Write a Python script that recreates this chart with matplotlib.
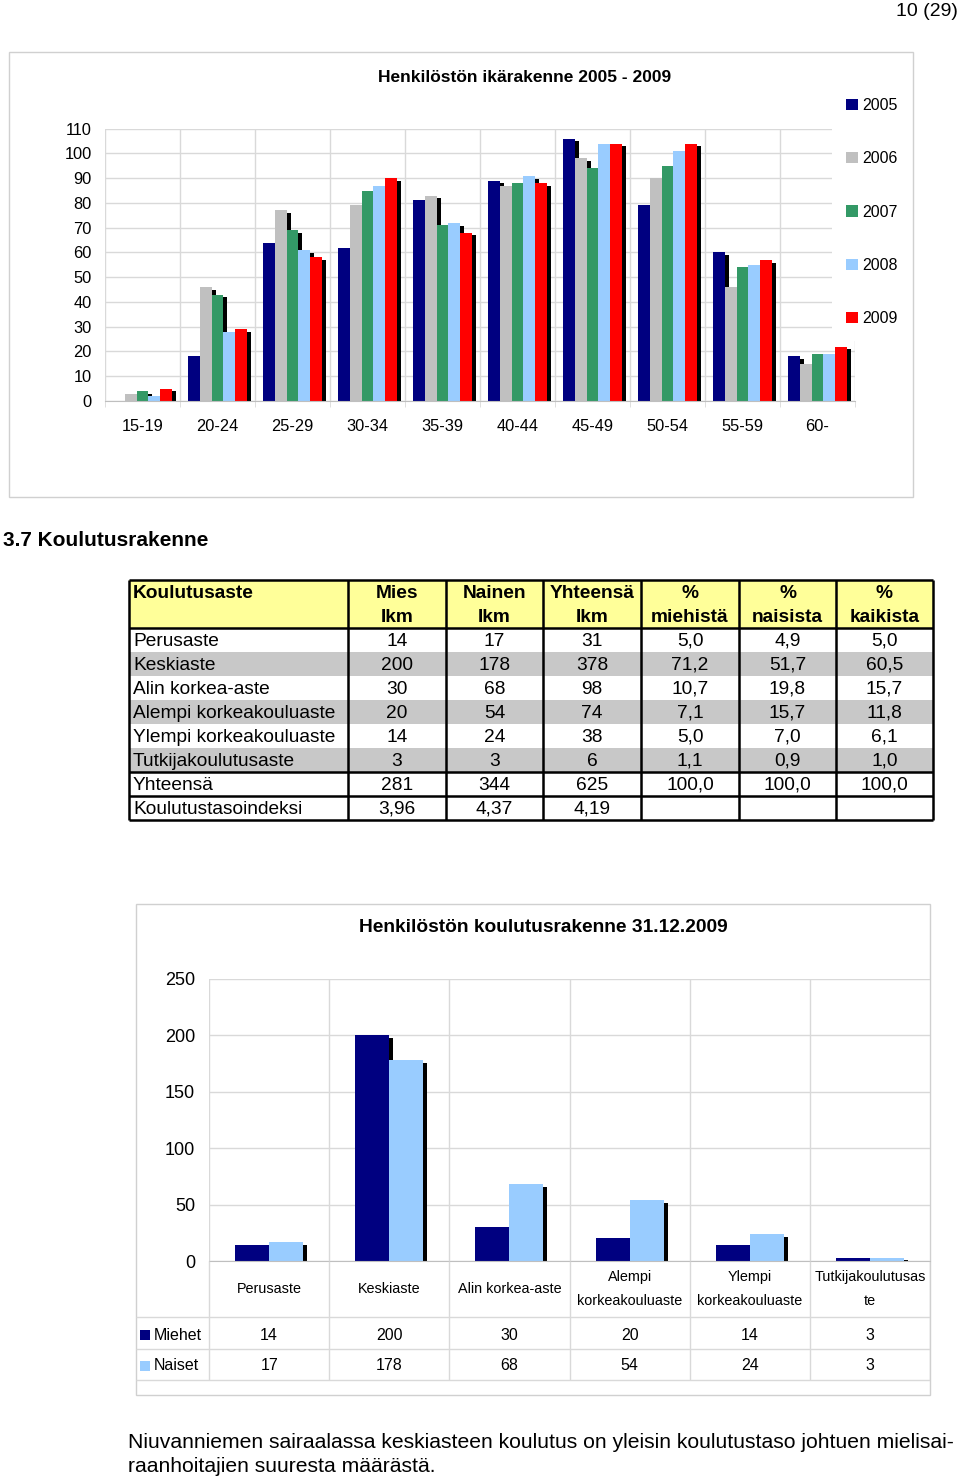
import matplotlib
matplotlib.use('Agg')
import matplotlib.pyplot as plt
import matplotlib.patheffects as pe
from matplotlib import font_manager
from matplotlib.patches import Rectangle, Patch
import numpy as np

W, H = 960, 1479

# age structure 2005-2009
age_groups = ['15-19', '20-24', '25-29', '30-34', '35-39', '40-44', '45-49', '50-54', '55-59', '60-']
years = ['2005', '2006', '2007', '2008', '2009']
v2005 = [0, 18, 64, 62, 81, 89, 106, 79, 60, 18]
v2006 = [3, 46, 77, 79, 83, 87, 98, 90, 46, 15]
v2007 = [4, 43, 69, 85, 71, 88, 94, 95, 54, 19]
v2008 = [2, 28, 61, 87, 72, 91, 104, 101, 55, 19]
v2009 = [5, 29, 58, 90, 68, 88, 104, 104, 57, 22]
year_colors = ['#000080', '#C0C0C0', '#339966', '#99CCFF', '#FF0000']

# education table
header_top = ['Koulutusaste', 'Mies', 'Nainen', 'Yhteensä', '%', '%', '%']
header_bottom = ['', 'Ikm', 'Ikm', 'Ikm', 'miehistä', 'naisista', 'kaikista']
edu_levels = ['Perusaste', 'Keskiaste', 'Alin korkea-aste', 'Alempi korkeakouluaste',
              'Ylempi korkeakouluaste', 'Tutkijakoulutusaste', 'Yhteensä', 'Koulutustasoindeksi']
mies_ikm = ['14', '200', '30', '20', '14', '3', '281', '3,96']
nainen_ikm = ['17', '178', '68', '54', '24', '3', '344', '4,37']
yht_ikm = ['31', '378', '98', '74', '38', '6', '625', '4,19']
pct_miehista = ['5,0', '71,2', '10,7', '7,1', '5,0', '1,1', '100,0', '']
pct_naisista = ['4,9', '51,7', '19,8', '15,7', '7,0', '0,9', '100,0', '']
pct_kaikista = ['5,0', '60,5', '15,7', '11,8', '6,1', '1,0', '100,0', '']

# education chart 31.12.2009
edu_cats = ['Perusaste', 'Keskiaste', 'Alin korkea-aste', 'Alempi\nkorkeakouluaste',
            'Ylempi\nkorkeakouluaste', 'Tutkijakoulutusas\nte']
miehet = [14, 200, 30, 20, 14, 3]
naiset = [17, 178, 68, 54, 24, 3]
sex_labels = ['Miehet', 'Naiset']
sex_colors = ['#000080', '#99CCFF']

names = {f.name for f in font_manager.fontManager.ttflist}
narrow = 'Liberation Sans Narrow' if 'Liberation Sans Narrow' in names else 'Liberation Sans'
plt.rcParams['font.family'] = ['Liberation Sans', 'DejaVu Sans']

fig = plt.figure(figsize=(W / 100, H / 100), dpi=100)


def px_axes(x0, y0, x1, y1, **kw):
    return fig.add_axes([x0 / W, 1 - y1 / H, (x1 - x0) / W, (y1 - y0) / H], **kw)


shadow = [pe.SimplePatchShadow(offset=(2.9, -2.0), shadow_rgbFace='black', alpha=1.0), pe.Normal()]
grid_c = '#D9D9D9'

# page layer
page = px_axes(0, 0, W, H, zorder=0)
page.set_xlim(0, W)
page.set_ylim(H, 0)
page.axis('off')
page.text(958, 12, '10 (29)', ha='right', va='center', fontsize=14)
page.add_patch(Rectangle((9, 52), 904, 445, fill=False, ec='#D0D0D0', lw=1))
page.add_patch(Rectangle((136, 904), 794, 491, fill=False, ec='#D0D0D0', lw=1))
page.text(525, 78, 'Henkilöstön ikärakenne 2005 - 2009', ha='center', va='center',
          fontsize=12.5, weight='bold')
page.text(3, 541, '3.7 Koulutusrakenne', ha='left', va='center', fontsize=15, weight='bold')
page.text(543, 927, 'Henkilöstön koulutusrakenne 31.12.2009', ha='center', va='center',
          fontsize=13.8, weight='bold', family=narrow)
page.text(128, 1442, 'Niuvanniemen sairaalassa keskiasteen koulutus on yleisin koulutustaso johtuen mielisai-',
          ha='left', va='center', fontsize=15.2)
page.text(128, 1467, 'raanhoitajien suuresta määrästä.', ha='left', va='center', fontsize=15.2)

# education table
col_edges = [129, 348, 446, 543, 641, 739, 836, 933]
top, head_h, row_h = 580, 48, 24
bottom = top + head_h + row_h * len(edu_levels)
page.add_patch(Rectangle((129, top), 804, head_h, fc='#FFFF99', ec='none'))
for r in [1, 3, 5]:
    page.add_patch(Rectangle((129, top + head_h + r * row_h), 804, row_h, fc='#C8C8C8', ec='none'))
page.vlines(col_edges, top, bottom, color='black', lw=1.8)
page.hlines([top, top + head_h, top + head_h + 6 * row_h, top + head_h + 7 * row_h, bottom],
            129, 933, color='black', lw=1.8)
centers = [(a + b) / 2 for a, b in zip(col_edges[:-1], col_edges[1:])]
for j in range(7):
    x = 133 if j == 0 else centers[j]
    ha = 'left' if j == 0 else 'center'
    page.text(x, 593, header_top[j], ha=ha, va='center', fontsize=13.8, weight='bold')
    page.text(x, 617, header_bottom[j], ha=ha, va='center', fontsize=13.8, weight='bold')
columns = [edu_levels, mies_ikm, nainen_ikm, yht_ikm, pct_miehista, pct_naisista, pct_kaikista]
for i in range(len(edu_levels)):
    y = top + head_h + row_h * i + row_h / 2 + 1.5
    for j, col in enumerate(columns):
        x = 133 if j == 0 else centers[j]
        page.text(x, y, col[i], ha='left' if j == 0 else 'center', va='center', fontsize=13.8)

# chart 1: age structure
ax1 = px_axes(105, 128.7, 855, 401, zorder=1)
x = np.arange(len(age_groups))
width = 0.155
for i, vals in enumerate([v2005, v2006, v2007, v2008, v2009]):
    bars = ax1.bar(x + (i - 2) * width, vals, width, color=year_colors[i], zorder=2)
    for b in bars:
        b.set_path_effects(shadow)
ax1.set_xlim(-0.5, len(age_groups) - 0.5)
ax1.set_ylim(0, 110)
ax1.set_yticks(range(0, 111, 10))
ax1.set_xticks(x, age_groups)
ax1.set_xticks(np.arange(-0.5, len(age_groups), 1), minor=True)
ax1.yaxis.grid(True, color=grid_c, lw=1)
ax1.xaxis.grid(True, which='minor', color=grid_c, lw=1)
ax1.set_axisbelow(True)
for s in ['top', 'right', 'left']:
    ax1.spines[s].set_visible(False)
ax1.spines['bottom'].set_color('#BFBFBF')
ax1.tick_params(axis='x', which='major', length=0, pad=13, labelsize=11.8)
ax1.tick_params(axis='x', which='minor', length=4, color=grid_c)
ax1.tick_params(axis='y', length=0, pad=9.5, labelsize=11.8)
ax1.add_patch(Rectangle((832 / W, 1 - 341 / H), 80 / W, 280 / H, transform=fig.transFigure,
                        fc='white', ec='none', zorder=3, clip_on=False))
ax1.legend([Patch(facecolor=c) for c in year_colors], years, loc='upper left',
           bbox_to_anchor=(846 / W, 1 - 98 / H), bbox_transform=fig.transFigure,
           frameon=False, fontsize=11.5, handlelength=0.72, handleheight=0.72,
           handletextpad=0.3, labelspacing=2.4, borderpad=0, borderaxespad=0)

# chart 2: education structure
ax2 = px_axes(209, 978.6, 930, 1261, zorder=1)
x2 = np.arange(len(edu_cats))
w2 = 0.283
for i, vals in enumerate([miehet, naiset]):
    bars = ax2.bar(x2 + (i - 0.5) * w2, vals, w2, color=sex_colors[i], zorder=2)
    for b in bars:
        b.set_path_effects(shadow)
ax2.set_xlim(-0.5, len(edu_cats) - 0.5)
ax2.set_ylim(0, 250)
ax2.set_yticks(range(0, 251, 50))
ax2.set_xticks([])
ax2.set_xticks(np.arange(-0.5, len(edu_cats), 1), minor=True)
ax2.yaxis.grid(True, color=grid_c, lw=1)
ax2.xaxis.grid(True, which='minor', color=grid_c, lw=1)
ax2.set_axisbelow(True)
for s in ['top', 'right', 'left']:
    ax2.spines[s].set_visible(False)
ax2.spines['bottom'].set_color('#BFBFBF')
ax2.tick_params(axis='x', which='minor', length=0)
ax2.tick_params(axis='y', length=0, pad=10)
for lab in ax2.get_yticklabels():
    lab.set_family(narrow)
    lab.set_fontsize(13)

# data table under chart 2
left_ext = 73 / 120
tax = px_axes(136, 1261, 930, 1395, zorder=1)
tax.set_xlim(-0.5 - left_ext, len(edu_cats) - 0.5)
tax.set_ylim(134, 0)
tax.axis('off')
tax.vlines(np.arange(-0.5, len(edu_cats), 1), 0, 119, color=grid_c, lw=1)
tax.hlines([56, 88, 119], -0.5 - left_ext, len(edu_cats) - 0.5, color=grid_c, lw=1)
for i, cat in enumerate(edu_cats):
    tax.text(i, 28, cat, ha='center', va='center', fontsize=10.4, family=narrow, linespacing=1.9)
for r, (vals, lab, c) in enumerate(zip([miehet, naiset], sex_labels, sex_colors)):
    y = 74 + 31 * r
    tax.add_patch(Rectangle((-0.5 - left_ext + 4 / 120, y - 5), 10 / 120, 10, fc=c, ec='none'))
    tax.text(-0.5 - left_ext + 18 / 120, y, lab, ha='left', va='center', fontsize=11.5, family=narrow)
    for i, v in enumerate(vals):
        tax.text(i, y, str(v), ha='center', va='center', fontsize=11.5, family=narrow)

fig.savefig('out.png', dpi=100)
